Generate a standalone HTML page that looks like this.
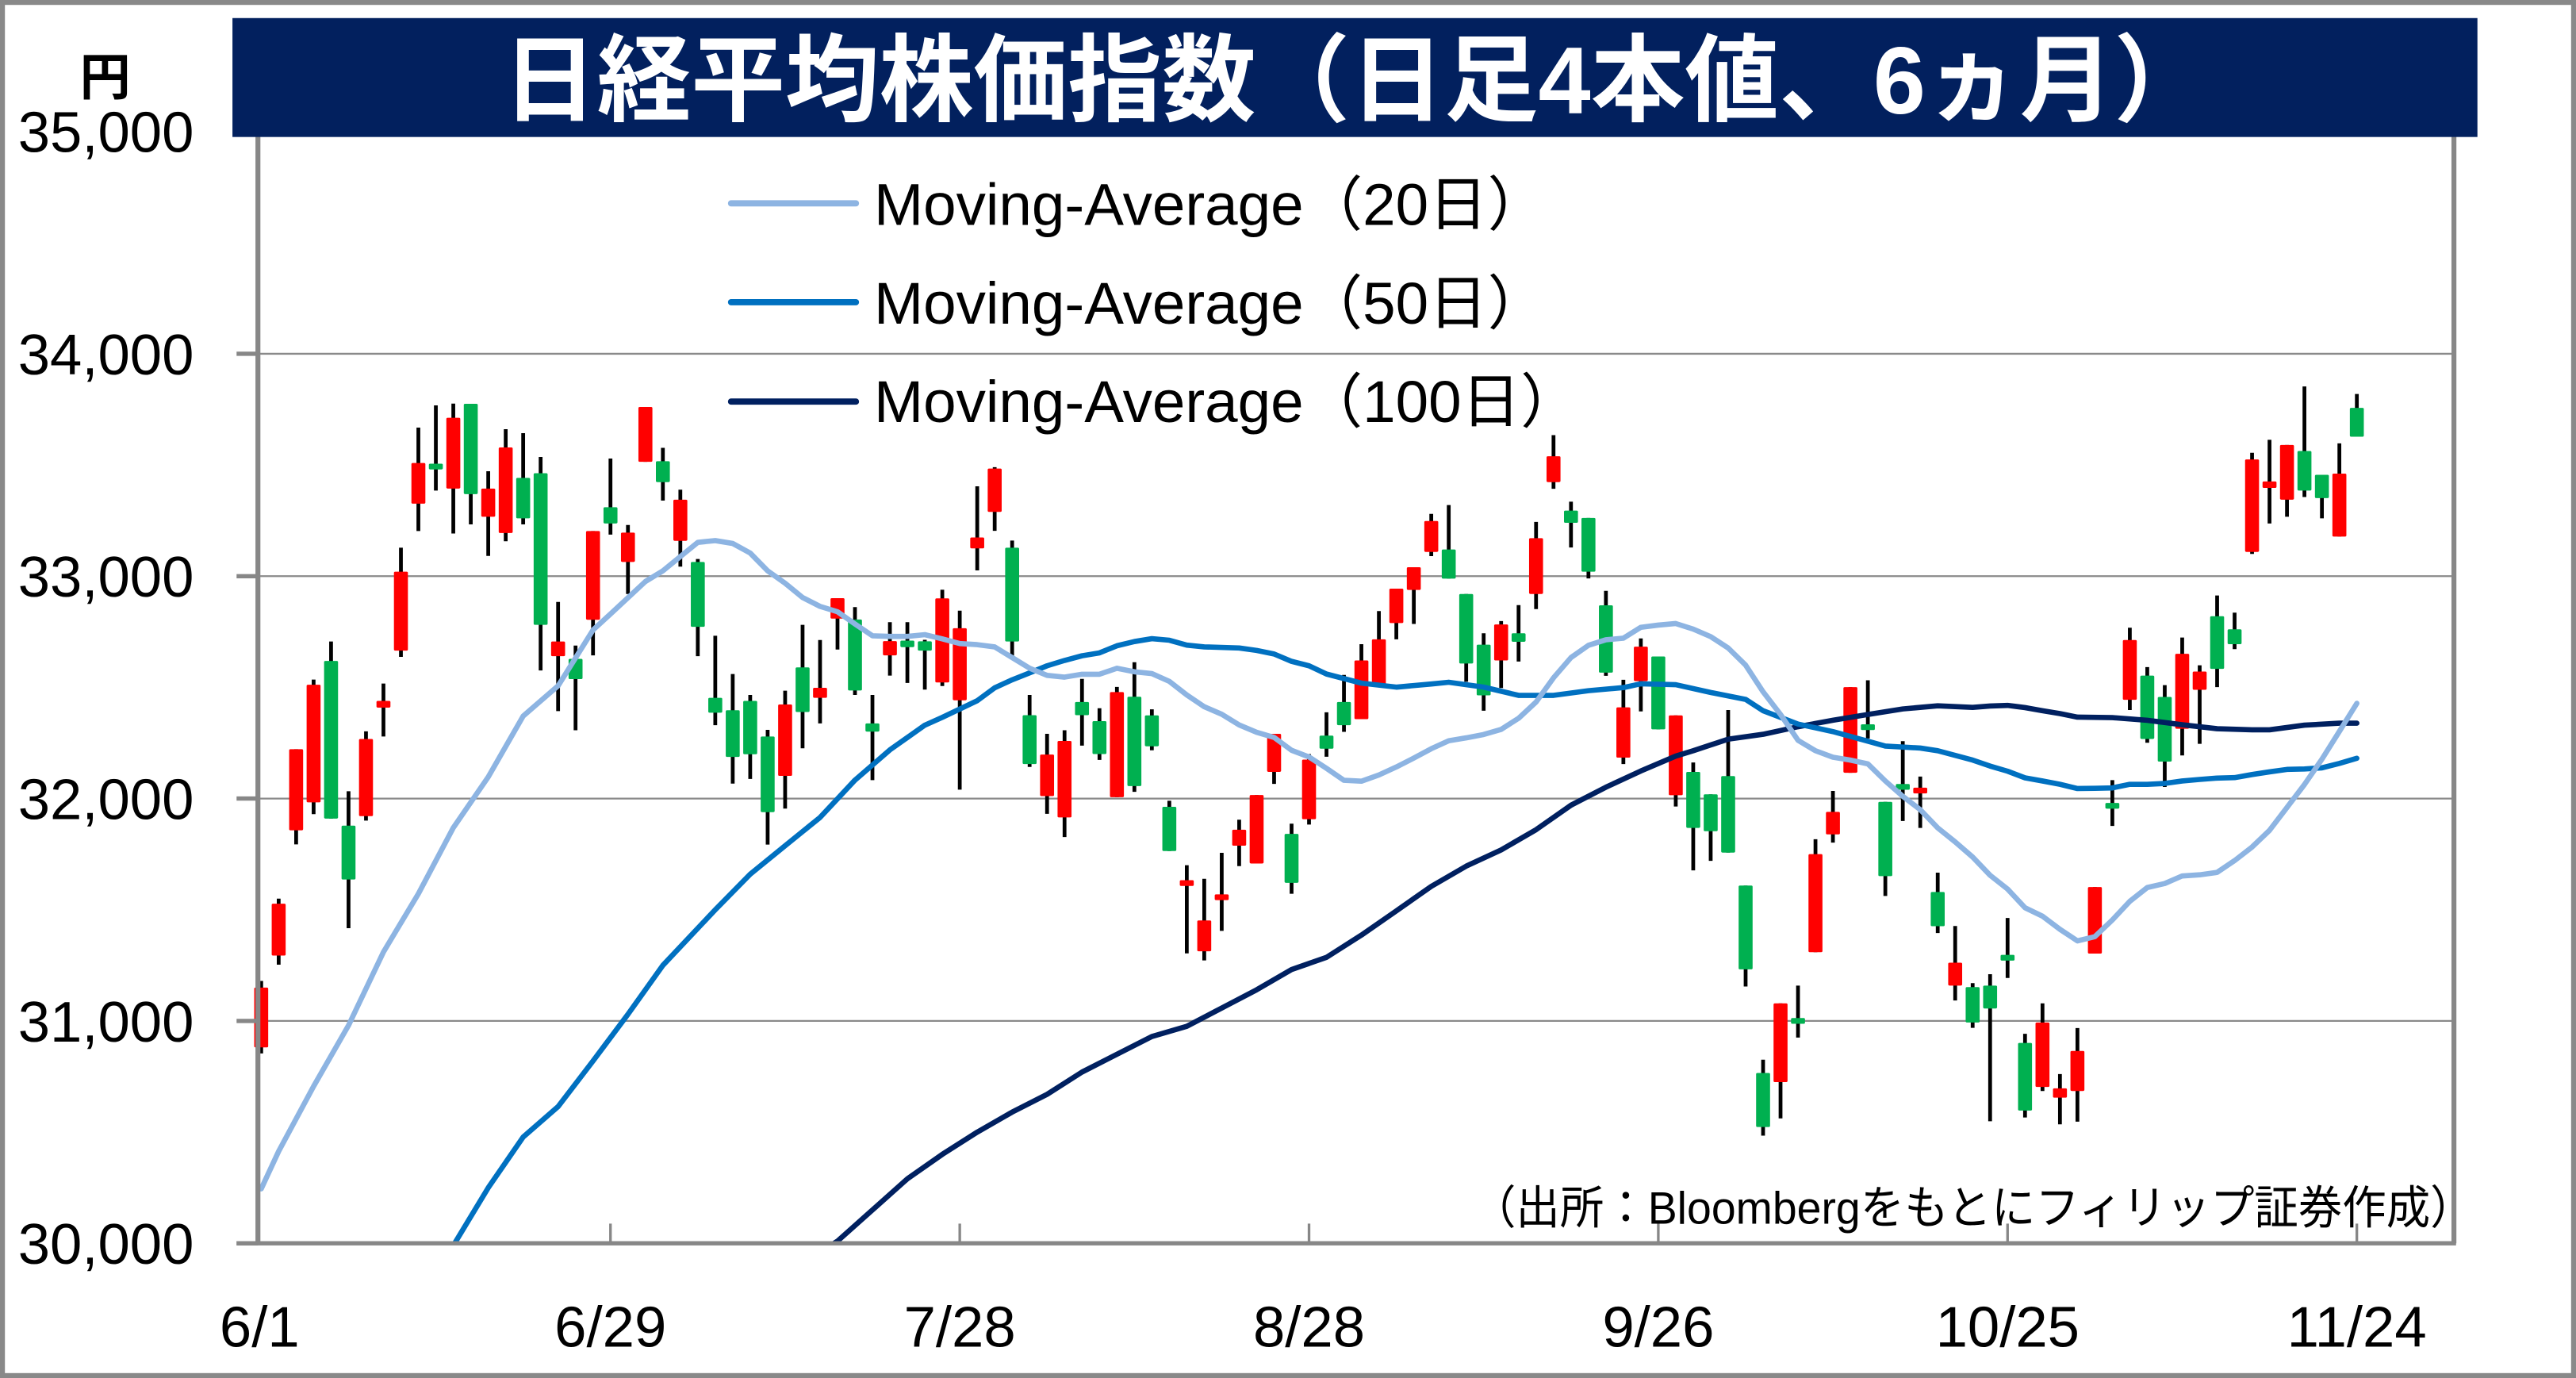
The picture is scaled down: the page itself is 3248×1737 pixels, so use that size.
<!DOCTYPE html>
<html><head><meta charset="utf-8"><title>日経平均株価指数</title>
<style>html,body{margin:0;padding:0;background:#fff;}svg{display:block;}</style></head>
<body>
<svg id="chart" xmlns="http://www.w3.org/2000/svg" width="3248" height="1737" viewBox="0 0 1568 839" preserveAspectRatio="none">
<rect x="1.5" y="1.5" width="1565" height="836" fill="#fff" stroke="#898989" stroke-width="3"/>
<defs><clipPath id="plotClip"><rect x="157" y="83" width="1337" height="674"/></clipPath></defs>
<g id="grid"></g>
<g id="candles"></g>
<g id="mas" clip-path="url(#plotClip)"></g>
<g id="axes"></g>
<rect x="141.5" y="11" width="1366.5" height="72.4" fill="#02205E"/>
<text x="306" y="69" fill="#fff" font-weight="bold" font-size="58" textLength="1038" lengthAdjust="spacingAndGlyphs" font-family="'Liberation Sans','Noto Sans CJK JP',sans-serif">日経平均株価指数（日足4本値、6ヵ月）</text>
<text x="64" y="58" text-anchor="middle" font-weight="bold" font-size="31" font-family="'Liberation Sans','Noto Sans CJK JP',sans-serif">円</text>
<g font-family="'Liberation Sans','Noto Sans CJK JP',sans-serif" font-size="36">
<g><line x1="445" y1="123.8" x2="521" y2="123.8" stroke="#8DB4E2" stroke-width="3.8" stroke-linecap="round"/><text x="532" y="137">Moving-Average（20日）</text></g>
<g><line x1="445" y1="184" x2="521" y2="184" stroke="#0070C0" stroke-width="3.8" stroke-linecap="round"/><text x="532" y="197">Moving-Average（50日）</text></g>
<g><line x1="445" y1="244.5" x2="521" y2="244.5" stroke="#002060" stroke-width="3.8" stroke-linecap="round"/><text x="532" y="257">Moving-Average（100日）</text></g>
</g>
<text x="896" y="745" font-size="28" textLength="610" lengthAdjust="spacingAndGlyphs" font-family="'Liberation Sans','Noto Sans CJK JP',sans-serif">（出所：Bloombergをもとにフィリップ証券作成）</text>
</svg>
<script>
const categories = Array.from({length:121},(_,i)=>i);
const tickLabels = ["6/1","6/29","7/28","8/28","9/26","10/25","11/24"];
const tickIdx = [0,20,40,60,80,100,120];
const yTicks = [30000,31000,32000,33000,34000,35000];
const opens  = [30881,31294,31857,31983,32619,31878,31921,32409,32665,33326,33500,33394,33775,33267,33194,33442,33463,32640,32628,32804,33310,33064,33514,33517,33159,33064,32453,32397,32439,32279,32102,32590,32453,32809,32805,32338,32644,32710,32707,32522,32442,33125,33289,33128,32375,32011,31915,32434,32348,32006,32458,32374,31963,31610,31313,31548,31788,31708,32120,31841,31907,32283,32434,32357,32506,32789,32938,33109,33120,32920,32692,32621,32743,32920,33423,33295,33262,32869,32184,32528,32639,32015,32120,32019,32101,31609,30766,30725,31005,31309,31839,32116,32326,31985,32060,32030,31580,31159,31152,31159,31290,30901,30703,30655,30685,31303,31975,32444,32553,32457,32314,32489,32820,32761,33109,33397,33344,33563,33456,33178,33757];
const closes = [31150,31527,32222,32512,31910,31636,32268,32439,33020,33509,33486,33712,33369,33394,33579,33260,32781,32706,32537,33203,33237,33196,33761,33423,33344,32772,32386,32187,32199,31939,32423,32389,32498,32901,32486,32301,32708,32681,32665,32900,32766,33174,33484,32706,32155,32198,32259,32375,32200,32479,32056,32235,31764,31630,31452,31564,31860,32016,32291,31621,32175,32224,32330,32621,32716,32944,33040,33248,32989,32607,32464,32783,32705,33171,33539,33240,33020,32566,32410,32683,32311,32374,31868,31853,31757,31232,30523,31079,30995,31750,31940,32501,32316,31651,32045,32042,31426,31262,30993,31056,31278,30597,30993,30697,30865,31602,31960,32713,32268,32166,32651,32571,32583,32694,33525,33426,33590,33385,33351,33461,33627];
const highs  = [31180,31550,32222,32535,32706,32033,32302,32517,33128,33668,33768,33776,33775,33472,33661,33643,33536,32884,32688,33203,33529,33230,33761,33577,33389,33077,32732,32560,32466,32309,32485,32781,32713,32901,32861,32466,32793,32793,32714,32939,32845,33404,33490,33160,32466,32291,32307,32538,32406,32502,32613,32401,31990,31700,31639,31756,31905,32016,32291,31887,32200,32388,32556,32694,32843,32944,33040,33280,33320,32920,32743,32798,32870,33244,33634,33335,33262,32934,32534,32720,32639,32374,32162,32019,32398,31609,30826,31079,31159,31817,32034,32501,32532,31985,32258,32099,31667,31427,31170,31210,31463,30942,31079,30761,30968,31602,32083,32768,32591,32510,32724,32599,32913,32836,33555,33613,33590,33853,33456,33597,33819];
const lows   = [30854,31253,31794,31930,31910,31417,31901,32279,32637,33203,33385,33192,33233,33091,33157,33233,32576,32393,32307,32644,33187,32920,33514,33340,33043,32640,32330,32067,32088,31793,31955,32226,32338,32670,32466,32083,32553,32520,32490,32506,32040,33026,33204,32629,32142,31931,31827,32238,32174,32006,32030,32217,31764,31304,31272,31405,31696,31708,32066,31572,31883,32188,32300,32357,32506,32716,32785,33090,32989,32525,32395,32497,32616,32852,33393,33129,32990,32552,32155,32392,32311,31964,31677,31720,31757,31155,30484,30562,30925,31309,31802,32116,32270,31562,31899,31868,31395,31092,30969,30549,31193,30566,30685,30535,30547,31303,31877,32398,32251,32052,32194,32246,32501,32672,33100,33237,33267,33356,33260,33178,33627];
const ma20Idx = [0,1,3,5,7,9,11,13,15,17,19,20,22,23,24,25,26,27,28,29,30,31,32,33,34,35,36,37,38,39,40,41,42,43,44,45,46,47,48,49,50,51,52,53,54,55,56,57,58,59,60,61,62,63,64,65,66,67,68,69,70,71,72,73,74,75,76,77,78,79,80,81,82,83,84,85,86,87,88,89,90,91,92,93,94,95,96,97,98,99,100,101,102,103,104,105,106,107,108,109,110,111,112,113,114,115,116,117,118,119,120];
const ma20Val = [30245,30414,30706,30980,31310,31572,31869,32097,32371,32507,32758,32830,32976,33024,33088,33152,33160,33147,33104,33024,32968,32904,32864,32840,32785,32732,32729,32729,32737,32718,32697,32692,32682,32634,32586,32554,32546,32559,32559,32586,32570,32562,32527,32466,32413,32379,32331,32298,32275,32217,32187,32136,32082,32078,32106,32142,32182,32224,32260,32273,32288,32311,32361,32434,32543,32634,32689,32714,32721,32770,32780,32787,32762,32728,32677,32600,32480,32378,32262,32215,32186,32173,32156,32079,32010,31950,31868,31805,31737,31655,31593,31509,31471,31412,31360,31379,31454,31538,31600,31618,31652,31657,31668,31721,31782,31857,31960,32063,32177,32302,32428];
const ma50Idx = [10,11,13,15,17,19,21,23,26,28,30,32,34,36,38,39,41,42,43,44,45,46,47,48,49,50,51,52,53,54,56,57,58,59,60,61,63,65,67,68,70,72,74,76,78,79,81,83,85,86,88,90,92,93,95,96,98,99,100,101,102,103,104,105,106,107,108,109,110,111,112,113,114,115,116,117,118,119,120];
const ma50Val = [29880,29990,30250,30478,30615,30820,31030,31250,31500,31660,31788,31915,32083,32219,32330,32365,32440,32498,32534,32565,32597,32621,32642,32655,32687,32706,32719,32712,32690,32682,32677,32666,32650,32617,32597,32560,32519,32501,32515,32523,32501,32464,32464,32485,32499,32516,32512,32477,32446,32395,32335,32301,32258,32236,32227,32215,32173,32146,32123,32093,32079,32064,32045,32046,32048,32064,32064,32068,32079,32086,32092,32094,32108,32120,32131,32133,32138,32158,32181];
const ma100Idx = [32,33,35,37,39,41,43,45,47,49,51,53,55,57,59,61,63,65,67,69,71,73,75,77,79,81,82,84,86,88,90,92,94,96,98,99,100,101,102,103,104,106,108,110,112,114,115,117,119,120];
const ma100Val = [29960,30010,30150,30290,30400,30500,30590,30670,30770,30850,30930,30976,31058,31140,31231,31286,31386,31495,31605,31696,31769,31860,31970,32051,32124,32191,32215,32267,32289,32323,32352,32378,32403,32417,32410,32416,32419,32409,32395,32382,32366,32364,32352,32332,32314,32309,32309,32330,32339,32339];

const NS='http://www.w3.org/2000/svg';
function xScale(i){return 159 + i*10.63;}
function yScale(p){return 757 - (p-30000)*0.1354;}
function mk(tag, attrs, parent){const e=document.createElementNS(NS,tag);for(const k in attrs)e.setAttribute(k,attrs[k]);parent.appendChild(e);return e;}
const FONT="'Liberation Sans','Noto Sans CJK JP',sans-serif";

const grid=document.getElementById('grid');
yTicks.forEach(v=>{
  if(v===30000||v===35000) return;
  const l=mk('line',{x1:157,x2:1493.7,y1:yScale(v),y2:yScale(v),stroke:'#8a8a8a','stroke-width':1.1},grid);
  
  
});

const cg=document.getElementById('candles');
categories.forEach(i=>{
  const o=opens[i],c=closes[i],h=highs[i],lo=lows[i];
  const up=c>=o, x=xScale(i);
  const g=mk('g',{},cg);
  
  
  mk('line',{x1:x,x2:x,y1:yScale(h),y2:yScale(lo),stroke:'#000','stroke-width':2.3},g);
  let top=yScale(Math.max(o,c)), bot=yScale(Math.min(o,c));
  if(bot-top<3.5){const m=(top+bot)/2;top=m-1.75;bot=m+1.75;}
  mk('rect',{x:x-4.25,y:top,width:8.5,height:bot-top,rx:0.8,fill:up?'#FF0000':'#00B050'},g);
});

const mg=document.getElementById('mas');
function drawMA(idx,val,color,name){
  const d=idx.map((i,k)=>(k?'L':'M')+xScale(i).toFixed(2)+' '+yScale(val[k]).toFixed(2)).join(' ');
  const p=mk('path',{d:d,fill:'none',stroke:color,'stroke-width':3.2,'stroke-linejoin':'round','stroke-linecap':'round'},mg);
  
  
}
drawMA(ma100Idx,ma100Val,'#002060','ma100-line');
drawMA(ma50Idx,ma50Val,'#0070C0','ma50-line');
drawMA(ma20Idx,ma20Val,'#8DB4E2','ma20-line');

const ax=document.getElementById('axes');
const ya=mk('line',{x1:157,x2:157,y1:83,y2:757,stroke:'#878787','stroke-width':3},ax);


const ra=mk('line',{x1:1493.7,x2:1493.7,y1:83,y2:757,stroke:'#878787','stroke-width':3},ax);


const xa=mk('line',{x1:144,x2:1495,y1:757,y2:757,stroke:'#878787','stroke-width':2.6},ax);


yTicks.forEach(v=>{
  const y=yScale(v);
  if(v<35000) mk('line',{x1:144,x2:157,y1:y,y2:y,stroke:'#878787','stroke-width':2.6},ax);
  const t=mk('text',{x:118,y:y+12.5,'text-anchor':'end','font-size':35,'font-family':FONT},ax);
  t.textContent=v.toLocaleString('en-US');
  
  
});
tickIdx.forEach((i,k)=>{
  const x=xScale(i);
  if(k>0) mk('line',{x1:x,x2:x,y1:745,y2:757,stroke:'#878787','stroke-width':1.6},ax);
  const t=mk('text',{x:k===0?158:x,y:820,'text-anchor':'middle','font-size':35,'font-family':FONT},ax);
  t.textContent=tickLabels[k];
  
  
});
</script>
</body></html>
